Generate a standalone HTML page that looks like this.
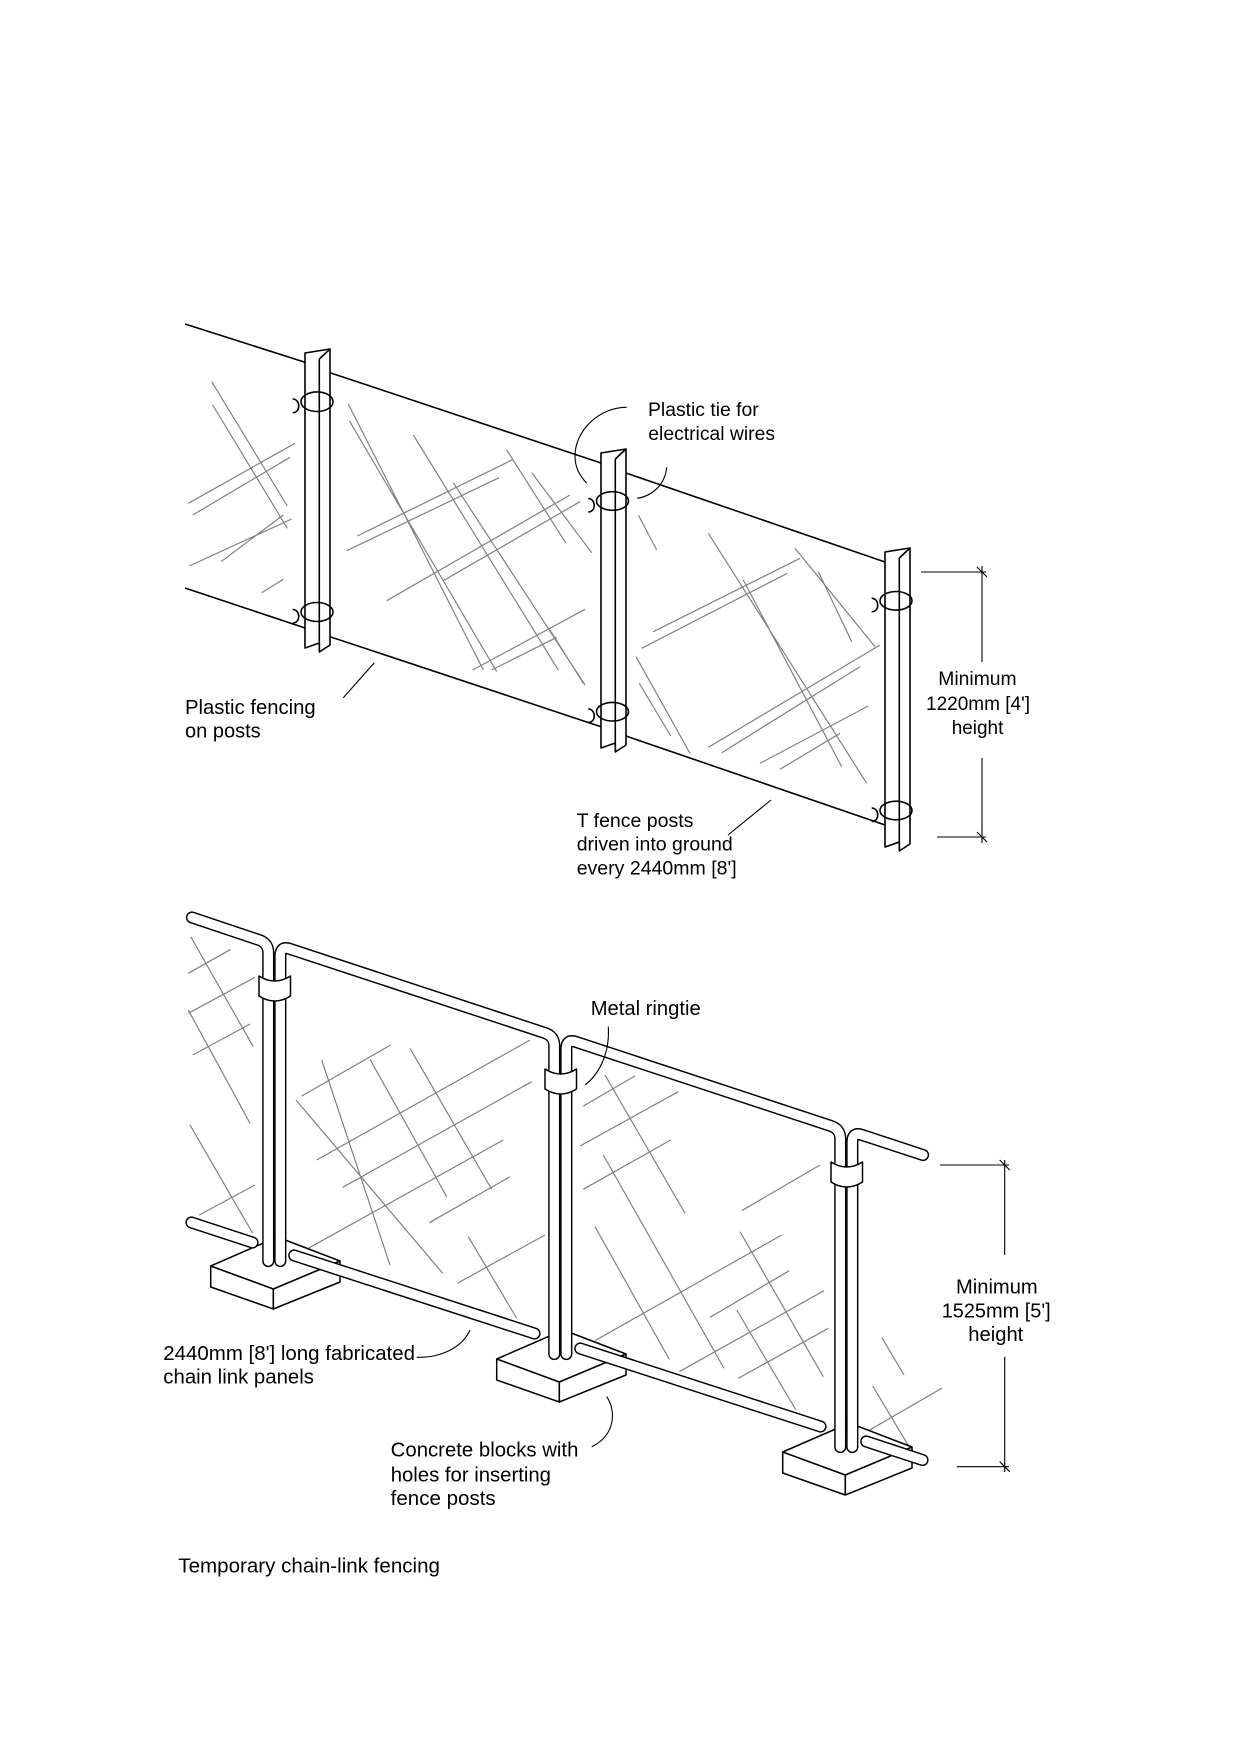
<!DOCTYPE html>
<html><head><meta charset="utf-8"><style>
html,body{margin:0;padding:0;background:#fff}
svg{display:block}
text{font-family:"Liberation Sans",Arial,sans-serif;fill:#000}
.g{stroke:#808080;stroke-width:1.2;fill:none}
.k{stroke:#000;stroke-width:1.6;fill:none}
.d{stroke:#000;stroke-width:1.1;fill:none}
.tb{stroke:#000;stroke-width:12.2;fill:none;stroke-linecap:round;stroke-linejoin:round}
.tw{stroke:#fff;stroke-width:9.3;fill:none;stroke-linecap:round;stroke-linejoin:round}
.post{fill:#fff;stroke:#000;stroke-width:1.6;stroke-linejoin:round}
.blk{fill:#fff;stroke:#000;stroke-width:1.5;stroke-linejoin:round}
</style></head><body>
<svg width="1240" height="1755" viewBox="0 0 1240 1755" xmlns="http://www.w3.org/2000/svg">
<rect width="1240" height="1755" fill="#fff"/>

<!-- ===== TOP FENCE ===== -->
<path class="g" d="M211.7,381.7L287.3,506 M212.7,405L287.3,528.3 M188.3,503.3L295,443.3 M192.7,515L290,457.3 M189.3,566L291.7,519 M221,561.7L283.3,515 M261.7,592.7L283.3,579.3
M348.3,404L483.3,670 M349.3,420.7L496.7,671.7 M413.3,435L558.3,670 M453.3,482.7L585,685 M506.7,450L566,543.3 M531.7,472.7L591.7,552.7 M357.3,536L513.3,459.3 M346.7,550.7L499,477.7 M386.7,600.7L570,495 M443.3,580.7L580,501.7 M472.7,670L585,609.3 M491.7,670L556.7,637.3 M550,630L583.3,683.3
M638.3,515L656.7,550 M708.3,533.3L866.7,783.3 M743.3,580L841.7,766.7 M795,548.3L875,646.7 M818.3,571.7L851.7,641.7 M653.3,631.7L800,558.3 M641.7,648.3L787.3,573.3 M636,656.7L690,753.3 M639.3,683.3L670.7,736 M708.3,747.3L880,645 M721.7,752.7L860,666.7 M760,763.3L868.3,706 M780,769.3L840,733.3"/>

<path class="k" d="M185,324L305,362.3 M330,372.7L601,463 M626,473L885,562 M185,588L305,628 M330,636.7L601,726.7 M626,736L885,825"/>

<!-- posts -->
<g>
<path class="post" d="M305,353 L330,349 L330,645 L319.3,652 L319.3,643 L305,648 Z"/>
<path class="k" d="M319.3,359 L330,349 M319.3,359 V652"/>
</g>
<g transform="translate(296,100)">
<path class="post" d="M305,353 L330,349 L330,645 L319.3,652 L319.3,643 L305,648 Z"/>
<path class="k" d="M319.3,359 L330,349 M319.3,359 V652"/>
</g>
<g transform="translate(580,199)">
<path class="post" d="M305,353 L330,349 L330,645 L319.3,652 L319.3,643 L305,648 Z"/>
<path class="k" d="M319.3,359 L330,349 M319.3,359 V652"/>
</g>

<!-- ties -->
<g class="k">
<ellipse cx="317" cy="401.7" rx="16" ry="9.8"/>
<path d="M292.7,399 C300.5,399 301,412.7 292.7,412.7"/>
<ellipse cx="317" cy="612" rx="16" ry="9.5"/>
<path d="M292.7,609.5 C300.5,609.5 301,623 292.7,623"/>
<ellipse cx="612.5" cy="501" rx="16" ry="9.3"/>
<path d="M588.2,498.5 C596,498.5 596.5,512 588.2,512"/>
<ellipse cx="612.5" cy="711.7" rx="16" ry="9.3"/>
<path d="M588.2,709 C596,709 596.5,722.5 588.2,722.5"/>
<ellipse cx="896" cy="600.8" rx="16" ry="9.3"/>
<path d="M871.7,598.3 C879.5,598.3 880,611.8 871.7,611.8"/>
<ellipse cx="896" cy="810.5" rx="16" ry="9.3"/>
<path d="M871.7,808 C879.5,808 880,821.5 871.7,821.5"/>
</g>

<!-- leaders top -->
<path class="d" d="M626.7,407.3 C600,407 575,430 575,456 C575,468 580,476 586.7,483.3"/>
<path class="d" d="M666.7,467.3 C665,485 652,496 637.3,498.3"/>
<path class="d" d="M343.3,697.7 L374.3,662.7"/>
<path class="d" d="M728,835 L771,800"/>

<!-- dimension 1 -->
<path class="d" d="M921,572 H986 M937,837 H986 M982,566 V662 M982,758 V843 M977,567 L987,577 M977,832 L987,842"/>

<!-- ===== BOTTOM FENCE ===== -->
<path class="g" d="M190.7,936.7L253.3,1046.7 M188.3,973.3L230.7,949.3 M188.3,1013.3L255,977.3 M192.7,1055L250,1024 M188.3,1010L250,1123.3 M190,1125L252.7,1233.3 M199.3,1215L255,1185
M321.7,1060L390,1265 M296,1100L442.7,1273.3 M370,1059.3L446.7,1196.7 M410,1048.3L491.7,1189.3 M301.7,1096L390.7,1045 M316.7,1160L530,1040 M342.7,1187.3L531.7,1081.7 M308.3,1248.3L503.3,1140 M429.3,1222.7L510,1176.7 M468.3,1236.7L516.7,1318.3 M457.3,1283.3L545,1235
M605,1075L685,1213.3 M583.3,1106L635,1076 M580,1146L678.3,1091.7 M583.3,1189.3L670.7,1140 M603.3,1155L724,1368.3 M595,1226.7L669.3,1359.3 M595,1340.7L781.7,1235 M710,1317.3L789.3,1270.7 M679.3,1371.7L824,1290.7 M740,1231.7L823.3,1376.7 M736.7,1310L796,1410 M738.3,1378.3L828.3,1328.3 M741.7,1210.7L820,1165
M881.7,1337.3L904,1375 M872.7,1386L910,1448.3 M866.7,1431.7L941.7,1388.3"/>

<!-- blocks -->
<g>
<path class="blk" d="M210.7,1266 L277.4,1237 L340,1261 L340,1282 L273.3,1309 L210.7,1287 Z"/>
<path class="k" d="M210.7,1266 L273.3,1289 L340,1261 M273.3,1289 V1309"/>
</g>
<g transform="translate(286,93)">
<path class="blk" d="M210.7,1266 L277.4,1237 L340,1261 L340,1282 L273.3,1309 L210.7,1287 Z"/>
<path class="k" d="M210.7,1266 L273.3,1289 L340,1261 M273.3,1289 V1309"/>
</g>
<g transform="translate(572,186)">
<path class="blk" d="M210.7,1266 L277.4,1237 L340,1261 L340,1282 L273.3,1309 L210.7,1287 Z"/>
<path class="k" d="M210.7,1266 L273.3,1289 L340,1261 M273.3,1289 V1309"/>
</g>

<!-- panel frames -->
<path class="tb" d="M192,917.5 L258.8,939.9 Q268.3,943 268.3,953 L268.3,1261"/>
<path class="tw" d="M192,917.5 L258.8,939.9 Q268.3,943 268.3,953 L268.3,1261"/>

<path class="tb" d="M280.3,1261 L280.3,956 Q280.3,945.7 290,948.9 L544.8,1032.9 Q554.3,1036 554.3,1046 L554.3,1354"/>
<path class="tw" d="M280.3,1261 L280.3,956 Q280.3,945.7 290,948.9 L544.8,1032.9 Q554.3,1036 554.3,1046 L554.3,1354"/>

<g transform="translate(286,93)">
<path class="tb" d="M280.3,1261 L280.3,956 Q280.3,945.7 290,948.9 L544.8,1032.9 Q554.3,1036 554.3,1046 L554.3,1354"/>
<path class="tw" d="M280.3,1261 L280.3,956 Q280.3,945.7 290,948.9 L544.8,1032.9 Q554.3,1036 554.3,1046 L554.3,1354"/>
</g>

<path class="tb" d="M852.3,1447 L852.3,1142 Q852.3,1131.7 862,1134.9 L923,1155"/>
<path class="tw" d="M852.3,1447 L852.3,1142 Q852.3,1131.7 862,1134.9 L923,1155"/>

<!-- bottom rails -->
<path class="tb" d="M191.5,1222.5 L252.5,1242.5"/><path class="tw" d="M191.5,1222.5 L252.5,1242.5"/>
<path class="tb" d="M294.3,1255.5 L534.5,1333.5"/><path class="tw" d="M294.3,1255.5 L534.5,1333.5"/>
<path class="tb" d="M580.3,1348.5 L820.5,1426.5"/><path class="tw" d="M580.3,1348.5 L820.5,1426.5"/>
<path class="tb" d="M866.3,1441.5 L922.5,1460"/><path class="tw" d="M866.3,1441.5 L922.5,1460"/>

<!-- ringties -->
<path class="blk" d="M259,976 Q274.7,986 290.5,976 L290.5,996 Q274.7,1006 259,996 Z"/>
<path class="blk" transform="translate(286,93)" d="M259,976 Q274.7,986 290.5,976 L290.5,996 Q274.7,1006 259,996 Z"/>
<path class="blk" transform="translate(572,186)" d="M259,976 Q274.7,986 290.5,976 L290.5,996 Q274.7,1006 259,996 Z"/>

<!-- leaders bottom -->
<path class="d" d="M608.3,1026.7 C610,1055 598,1075 585,1085"/>
<path class="d" d="M416.7,1357.3 C440,1358 462,1348 470,1330"/>
<path class="d" d="M606.7,1396.7 C616,1410 616,1435 591.7,1446.7"/>

<!-- dimension 2 -->
<path class="d" d="M940,1165 H1009 M956.7,1466.7 H1009 M1004.7,1160 V1255 M1004.7,1356.7 V1472 M999.7,1160 L1009.7,1170 M999.7,1461.7 L1009.7,1471.7"/>

<!-- TEXT -->
<text x="648" y="416" font-size="19.3" textLength="110.7" lengthAdjust="spacingAndGlyphs">Plastic tie for</text>
<text x="648.3" y="440" font-size="19.3" textLength="126.7" lengthAdjust="spacingAndGlyphs">electrical wires</text>
<text x="938.3" y="685" font-size="19.3" textLength="78.3" lengthAdjust="spacingAndGlyphs">Minimum</text>
<text x="926" y="710" font-size="19" textLength="104" lengthAdjust="spacingAndGlyphs">1220mm [4']</text>
<text x="951.7" y="734" font-size="19" textLength="51.7" lengthAdjust="spacingAndGlyphs">height</text>
<text x="576.7" y="827" font-size="19.4" textLength="116.7" lengthAdjust="spacingAndGlyphs">T fence posts</text>
<text x="576.7" y="850.5" font-size="19.5" textLength="156" lengthAdjust="spacingAndGlyphs">driven into ground</text>
<text x="576.7" y="874.5" font-size="19.5" textLength="160" lengthAdjust="spacingAndGlyphs">every 2440mm [8']</text>
<text x="185" y="714" font-size="20.3" textLength="130.7" lengthAdjust="spacingAndGlyphs">Plastic fencing</text>
<text x="185" y="737.3" font-size="20" textLength="75.7" lengthAdjust="spacingAndGlyphs">on posts</text>
<text x="590.7" y="1015" font-size="20.2" textLength="110" lengthAdjust="spacingAndGlyphs">Metal ringtie</text>
<text x="163.3" y="1360" font-size="20.4" textLength="251.7" lengthAdjust="spacingAndGlyphs">2440mm [8'] long fabricated</text>
<text x="163.3" y="1383.5" font-size="20.4" textLength="150.7" lengthAdjust="spacingAndGlyphs">chain link panels</text>
<text x="390.7" y="1456.7" font-size="20.3" textLength="187.7" lengthAdjust="spacingAndGlyphs">Concrete blocks with</text>
<text x="390.7" y="1481.5" font-size="20.3" textLength="160.3" lengthAdjust="spacingAndGlyphs">holes for inserting</text>
<text x="390.7" y="1505" font-size="20.4" textLength="105" lengthAdjust="spacingAndGlyphs">fence posts</text>
<text x="178.3" y="1572.7" font-size="20.4" textLength="261.7" lengthAdjust="spacingAndGlyphs">Temporary chain-link fencing</text>
<text x="956" y="1293.3" font-size="20.1" textLength="81.7" lengthAdjust="spacingAndGlyphs">Minimum</text>
<text x="941.7" y="1317.7" font-size="19.9" textLength="109" lengthAdjust="spacingAndGlyphs">1525mm [5']</text>
<text x="968.3" y="1341" font-size="20.2" textLength="55" lengthAdjust="spacingAndGlyphs">height</text>
</svg>
</body></html>
